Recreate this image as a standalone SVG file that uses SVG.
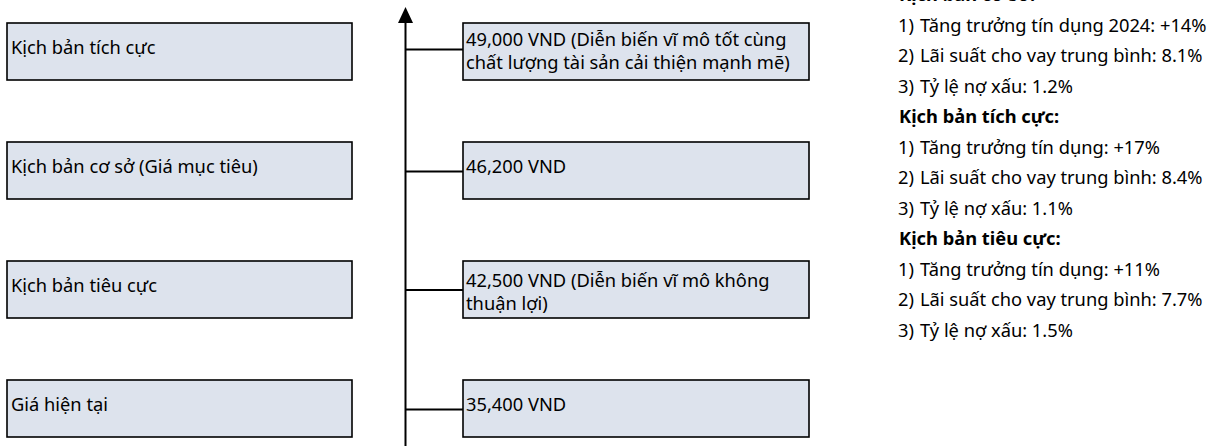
<svg xmlns="http://www.w3.org/2000/svg" width="1221" height="446" viewBox="0 0 1221 446">
<defs>
<style>
.box{fill:#dde3ed;stroke:#000;stroke-width:1.6}
.t{font-family:"Noto Sans","DejaVu Sans",sans-serif;font-size:18.3px;fill:#000}
.b{font-weight:700}
.ln{stroke:#000;stroke-width:2;fill:none}
</style>
<marker id="arr" markerUnits="userSpaceOnUse" markerWidth="16" markerHeight="16" viewBox="0 0 16 16" refX="0.5" refY="7.5" orient="auto">
<path d="M0,0 L16,7.5 L0,15 z" fill="#000"/>
</marker>
</defs>
<rect width="1221" height="446" fill="#fff"/>
<g id="connectors">
<line class="ln" x1="405.5" y1="446" x2="405.5" y2="22.5" marker-end="url(#arr)"/>
<path class="ln" d="M405.5,49.5 H463"/>
<path class="ln" d="M405.5,171.5 H463"/>
<path class="ln" d="M405.5,290 H463"/>
<path class="ln" d="M405.5,409.5 H463"/>
</g>
<g id="s-pos">
<rect class="box" x="7" y="23" width="345" height="57"/>
<text class="t" x="11" y="54">Kịch bản tích cực</text>
</g>
<g id="s-base">
<rect class="box" x="7" y="142" width="345" height="57"/>
<text class="t" x="11" y="173">Kịch bản cơ sở (Giá mục tiêu)</text>
</g>
<g id="s-neg">
<rect class="box" x="7" y="261" width="345" height="57"/>
<text class="t" x="11" y="292">Kịch bản tiêu cực</text>
</g>
<g id="s-now">
<rect class="box" x="7" y="380" width="345" height="57"/>
<text class="t" x="11" y="411">Giá hiện tại</text>
</g>
<g id="v-pos">
<rect class="box" x="463" y="23" width="346" height="57"/>
<text class="t" x="466" y="46">49,000 VND (Diễn biến vĩ mô tốt cùng<tspan x="466" y="69">chất lượng tài sản cải thiện mạnh mẽ)</tspan></text>
</g>
<g id="v-base">
<rect class="box" x="463" y="142" width="346" height="57"/>
<text class="t" x="466" y="172.5">46,200 VND</text>
</g>
<g id="v-neg">
<rect class="box" x="463" y="261" width="346" height="57"/>
<text class="t" x="466" y="286.5">42,500 VND (Diễn biến vĩ mô không<tspan x="466" y="309.5">thuận lợi)</tspan></text>
</g>
<g id="v-now">
<rect class="box" x="463" y="380" width="346" height="57"/>
<text class="t" x="466" y="411">35,400 VND</text>
</g>
<g id="notes">
<text class="t b" x="899" y="1">Kịch bản cơ sở:</text>
<text class="t" x="898" y="31.5">1)<tspan x="920">Tăng trưởng tín dụng 2024: +14%</tspan></text>
<text class="t" x="898" y="62">2)<tspan x="920">Lãi suất cho vay trung bình: 8.1%</tspan></text>
<text class="t" x="898" y="92.5">3)<tspan x="920">Tỷ lệ nợ xấu: 1.2%</tspan></text>
<text class="t b" x="899" y="123">Kịch bản tích cực:</text>
<text class="t" x="898" y="153.5">1)<tspan x="920">Tăng trưởng tín dụng: +17%</tspan></text>
<text class="t" x="898" y="184">2)<tspan x="920">Lãi suất cho vay trung bình: 8.4%</tspan></text>
<text class="t" x="898" y="214.5">3)<tspan x="920">Tỷ lệ nợ xấu: 1.1%</tspan></text>
<text class="t b" x="899" y="245">Kịch bản tiêu cực:</text>
<text class="t" x="898" y="275.5">1)<tspan x="920">Tăng trưởng tín dụng: +11%</tspan></text>
<text class="t" x="898" y="306">2)<tspan x="920">Lãi suất cho vay trung bình: 7.7%</tspan></text>
<text class="t" x="898" y="336.5">3)<tspan x="920">Tỷ lệ nợ xấu: 1.5%</tspan></text>
</g>
</svg>
